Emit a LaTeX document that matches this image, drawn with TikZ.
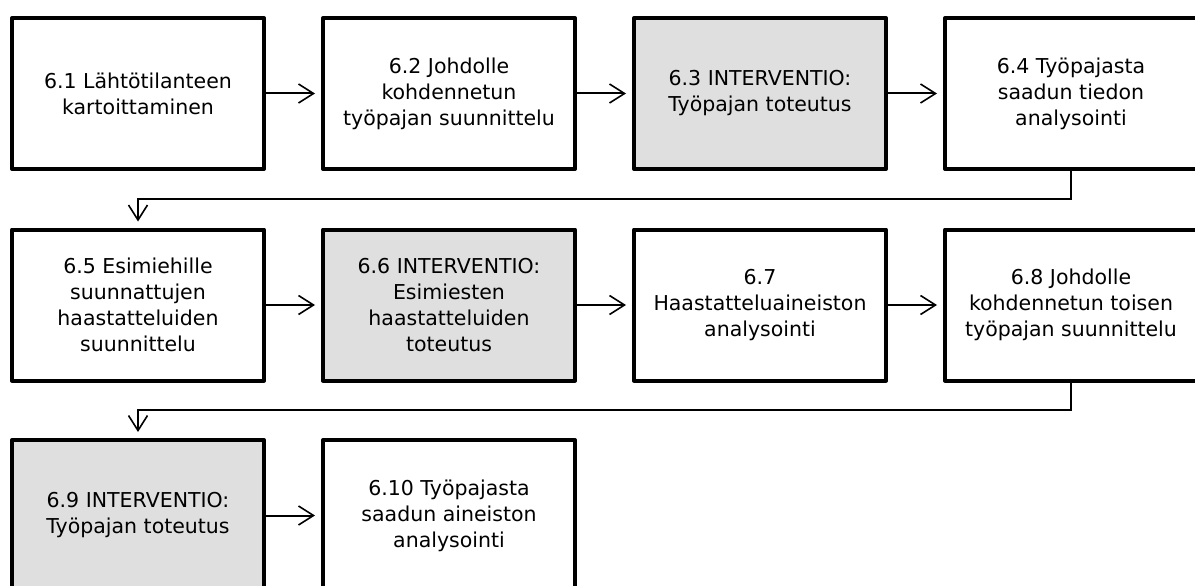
\documentclass[tikz,border=0pt]{standalone}
\usepackage{fontspec}
\setmainfont{DejaVu Sans}
\usetikzlibrary{arrows.meta}
\definecolor{boxgray}{HTML}{DFDFDF}
\begin{document}
\begin{tikzpicture}[x=1pt,y=-1pt,
  stage/.style={draw=black, line width=4pt, line join=round, fill=white,
    minimum width=252pt, minimum height=151pt, inner sep=0pt, outer sep=0pt,
    align=center, font=\fontsize{20.5pt}{26pt}\selectfont},
  interv/.style={stage, fill=boxgray},
  tip/.style={-{Straight Barb[length=15pt,width=19pt,line width=1.6pt]}},
  flow/.style={tip, line width=2pt, shorten >=8pt},
  wrap/.style={tip, line width=1.3pt, shorten >=8pt}]
\clip (0,0) rectangle (1195,586);

% first row
\node[stage]  (b1) at (138,93.5)  {6.1 Lähtötilanteen\\kartoittaminen};
\node[stage]  (b2) at (449,93.5)  {6.2 Johdolle\\kohdennetun\\työpajan suunnittelu};
\node[interv] (b3) at (760,93.5)  {6.3 INTERVENTIO:\\Työpajan toteutus};
\node[stage]  (b4) at (1071,93.5) {6.4 Työpajasta\\saadun tiedon\\analysointi};

% second row
\node[stage]  (b5) at (138,305)  {6.5 Esimiehille\\suunnattujen\\haastatteluiden\\suunnittelu};
\node[interv] (b6) at (449,305)  {6.6 INTERVENTIO:\\Esimiesten\\haastatteluiden\\toteutus};
\node[stage]  (b7) at (760,305)  {6.7\\Haastatteluaineiston\\analysointi};
\node[stage]  (b8) at (1071,305) {6.8 Johdolle\\kohdennetun toisen\\työpajan suunnittelu};

% third row
\node[interv] (b9)  at (138,515.5) {6.9 INTERVENTIO:\\Työpajan toteutus};
\node[stage]  (b10) at (449,515.5) {6.10 Työpajasta\\saadun aineiston\\analysointi};

% arrows along each row
\draw[flow] (b1.east) -- (b2.west);
\draw[flow] (b2.east) -- (b3.west);
\draw[flow] (b3.east) -- (b4.west);
\draw[flow] (b5.east) -- (b6.west);
\draw[flow] (b6.east) -- (b7.west);
\draw[flow] (b7.east) -- (b8.west);
\draw[flow] (b9.east) -- (b10.west);

% returns from the end of a row to the start of the next
\coordinate (r1) at (0,199);
\coordinate (r2) at (0,410);
\draw[wrap] (b4.south) -- (b4.south |- r1) -| (b5.north);
\draw[wrap] (b8.south) -- (b8.south |- r2) -| (b9.north);
\end{tikzpicture}
\end{document}
